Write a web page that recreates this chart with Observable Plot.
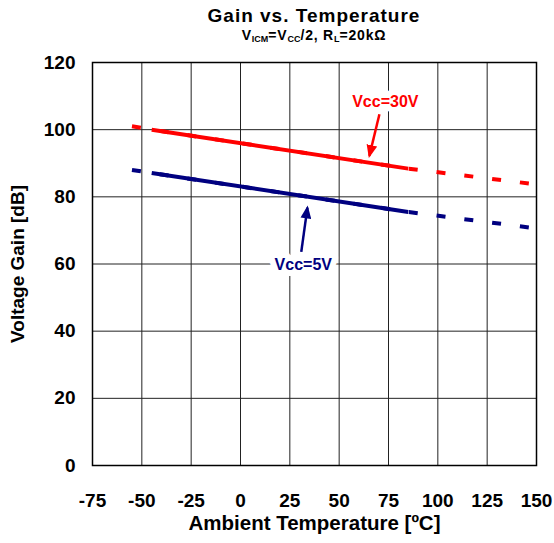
<!DOCTYPE html>
<html><head><meta charset="utf-8">
<script src="https://cdn.jsdelivr.net/npm/d3@7"></script>
<script src="https://cdn.jsdelivr.net/npm/@observablehq/plot@0.6"></script>
<style>
body{margin:0;background:#fff;font-family:"Liberation Sans",Arial,sans-serif;}
#wrap{position:relative;width:554px;height:543px;overflow:hidden;}
#title{position:absolute;left:72px;width:484px;top:6px;text-align:center;font-weight:bold;font-size:19px;line-height:20px;letter-spacing:1px;}
#sub{position:absolute;left:72px;width:484px;top:27px;text-align:center;font-weight:bold;font-size:14px;line-height:16px;letter-spacing:0.8px;}
#sub sub{font-size:9px;vertical-align:-2px;line-height:0;letter-spacing:0;}
#chart{position:absolute;left:0;top:48px;}
</style>
</head><body>
<div id="wrap">
  <div id="title">Gain vs. Temperature</div>
  <div id="sub">V<sub>ICM</sub>=V<sub>CC</sub>/2, R<sub>L</sub>=20kΩ</div>
  <div id="chart"></div>
</div>
<script>
// Data
const temps = [-55, -45, 85, 150];
const gain30 = [101, 100, 88.4, 83.7];
const gain5 = [88, 87.1, 75.5, 70.6];
const solidFrom = -45, solidTo = 85;
const seriesNames = ["Vcc=30V", "Vcc=5V"];
const xTicks = [-75, -50, -25, 0, 25, 50, 75, 100, 125, 150];
const yTicks = [0, 20, 40, 60, 80, 100, 120];
// annotation anchors (data units)
const labelX = [73.4, 31.8];
const labelY = [108.4, 59.6];
const arrowX1 = [70.4, 30.8];
const arrowY1 = [104.6, 63.6];
const arrowX2 = [65.3, 33.9];
const arrowY2 = [92.2, 76.8];

const colors = {"Vcc=30V": "#ff0000", "Vcc=5V": "#000080"};

const rows = [];
temps.forEach((t, i) => {
  rows.push({series: seriesNames[0], t, g: gain30[i]});
  rows.push({series: seriesNames[1], t, g: gain5[i]});
});
const solidRows = rows.filter(d => d.t >= solidFrom && d.t <= solidTo);
const notes = seriesNames.map((s, i) => ({series: s, x: labelX[i], y: labelY[i], x1: arrowX1[i], y1: arrowY1[i], x2: arrowX2[i], y2: arrowY2[i]}));

function headMarker(color, context) {
  const m = d3.create("svg:marker")
    .attr("viewBox", "-6 -5 12 10")
    .attr("markerUnits", "userSpaceOnUse")
    .attr("markerWidth", 13)
    .attr("markerHeight", 11)
    .attr("refX", 4)
    .attr("orient", "auto")
    .attr("fill", color)
    .attr("stroke", "none");
  m.append("path").attr("d", "M-6,-5L6,0L-6,5Z");
  return m.node();
}

const fmt = d => String(d);

const chart = Plot.plot({
  width: 554,
  height: 495,
  marginLeft: 92,
  marginRight: 18,
  marginTop: 14,
  marginBottom: 78,
  style: {fontFamily: "'Liberation Sans', Arial, sans-serif", fontSize: "19px", fontWeight: "bold", color: "#000", background: "#fff"},
  x: {domain: [-75, 150]},
  y: {domain: [0, 120]},
  color: {domain: seriesNames, range: seriesNames.map(s => colors[s])},
  marks: [
    Plot.gridX(xTicks, {stroke: "#222", strokeOpacity: 1, strokeWidth: 1}),
    Plot.gridY(yTicks, {stroke: "#222", strokeOpacity: 1, strokeWidth: 1}),
    Plot.frame({stroke: "#000", strokeWidth: 1.5}),
    Plot.axisX(xTicks, {tickSize: 0, tickPadding: 28, tickFormat: fmt, fontSize: 19, fontWeight: "bold", label: null}),
    Plot.axisX({label: "Ambient Temperature [ºC]", ticks: [], tickSize: 0, fontSize: 20.5, fontWeight: "bold", labelAnchor: "center", labelArrow: "none", labelOffset: 64}),
    Plot.axisY(yTicks, {tickSize: 0, tickPadding: 17, tickFormat: fmt, fontSize: 19, fontWeight: "bold", label: "Voltage Gain [dB]", labelAnchor: "center", labelArrow: "none", labelOffset: 82}),
    Plot.line(rows, {x: "t", y: "g", z: "series", stroke: "series", strokeWidth: 4, strokeDasharray: "9,19", strokeLinecap: "butt"}),
    Plot.line(solidRows, {x: "t", y: "g", z: "series", stroke: "series", strokeWidth: 4, strokeLinecap: "butt"}),
    Plot.link(notes, {x1: "x1", y1: "y1", x2: "x2", y2: "y2", stroke: "series", strokeWidth: 2.5, markerEnd: headMarker}),
    Plot.text(notes, {x: "x", y: "y", text: "series", fill: "series", stroke: "white", strokeWidth: 12, fontSize: 16, fontWeight: "bold"})
  ]
});
document.getElementById("chart").appendChild(chart);
</script>
</body></html>
